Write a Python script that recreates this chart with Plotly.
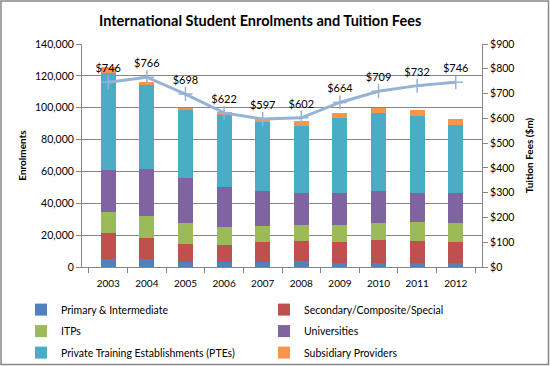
import plotly.graph_objects as go

years = ["2003", "2004", "2005", "2006", "2007", "2008", "2009", "2010", "2011", "2012"]
primary = [5000, 4800, 3100, 3100, 3100, 3600, 2700, 2700, 2700, 2700]
secondary = [16100, 13600, 11300, 10700, 12600, 12500, 13200, 14100, 13400, 12800]
itps = [13600, 13600, 13200, 11500, 10200, 10500, 10700, 10800, 12100, 12300]
universities = [26200, 29300, 28500, 25100, 22000, 19900, 19900, 20100, 18300, 18700]
ptes = [60700, 52800, 42500, 44800, 43300, 42000, 47000, 48800, 48300, 42400]
subsidiary = [4100, 1800, 1200, 2100, 1700, 3000, 3400, 3300, 3900, 4000]
fees = [746, 766, 698, 622, 597, 602, 664, 709, 732, 746]
fee_labels = ["$" + str(v) for v in fees]

series = [
    ("Primary & Intermediate", primary, "#4F81BD", "legend"),
    ("Secondary/Composite/Special", secondary, "#C0504D", "legend2"),
    ("ITPs", itps, "#9BBB59", "legend"),
    ("Universities", universities, "#8064A2", "legend2"),
    ("Private Training Establishments (PTEs)", ptes, "#4BACC6", "legend"),
    ("Subsidiary Providers", subsidiary, "#F79646", "legend2"),
]

FONT = "Lato"
L, R, T, B = 82, 68, 44, 99
PW, PH = 550 - L - R, 366 - T - B

fig = go.Figure()
for name, vals, col, lg in series:
    fig.add_trace(go.Bar(x=years, y=vals, name=name, legend=lg, legendgroup=name,
                         marker=dict(color=col, line=dict(width=0))))

fig.add_trace(go.Scatter(
    x=years, y=fees, yaxis="y2", mode="lines+markers+text", text=fee_labels,
    textposition="top center", textfont=dict(family=FONT, size=11, color="#000"),
    line=dict(color="#95B3D7", width=3),
    marker=dict(symbol="cross-thin", size=10, line=dict(color="#95B3D7", width=1.5), color="#95B3D7"),
    showlegend=False, cliponaxis=False,
))

legend_common = dict(orientation="v", xanchor="left", y=-0.126, yanchor="top",
                     traceorder="grouped", font=dict(size=10.5), tracegroupgap=2.5,
                     bgcolor="rgba(0,0,0,0)", itemwidth=30)

fig.update_layout(
    width=550, height=366,
    margin=dict(l=L, r=R, t=T, b=B, autoexpand=False),
    paper_bgcolor="white", plot_bgcolor="white",
    barmode="stack", bargap=0.61, hovermode=False,
    font=dict(family=FONT, size=10, color="#000"),
    title=dict(text="<b>International Student Enrolments and Tuition Fees</b>",
               x=0.473, xanchor="center", y=0.943, yanchor="middle",
               font=dict(family=FONT, size=14.5, color="#000")),
    xaxis=dict(type="category", showgrid=False, showline=True, linecolor="#868686",
               ticks="outside", tickson="boundaries", ticklen=5, tickcolor="#868686",
               tickfont=dict(size=10), ticklabelstandoff=7),
    yaxis=dict(range=[0, 140000], dtick=20000, tickformat=",d", showgrid=True,
               gridcolor="#868686", gridwidth=1, showline=True, linecolor="#868686",
               ticks="outside", ticklen=5, tickcolor="#868686", zeroline=False,
               title=dict(text="<b>Enrolments</b>", font=dict(size=10), standoff=6),
               tickfont=dict(size=10.5)),
    yaxis2=dict(range=[0, 900], dtick=100, tickprefix="$", overlaying="y", side="right",
                showgrid=False, showline=True, linecolor="#868686", ticks="outside",
                ticklen=5, tickcolor="#868686", zeroline=False,
                title=dict(text="<b>Tuition Fees ($m)</b>", font=dict(size=10), standoff=12),
                tickfont=dict(size=10.5)),
    legend=dict(x=(21 - L) / PW, **legend_common),
    legend2=dict(x=(264 - L) / PW, **legend_common),
    shapes=[dict(type="rect", xref="paper", yref="paper",
                 x0=(1 - L) / PW, x1=(548.5 - L) / PW, y0=(T + PH - 364.5) / PH, y1=(T + PH - 1) / PH,
                 line=dict(color="#868686", width=1.5), fillcolor="rgba(0,0,0,0)", layer="below")],
)

fig.write_html("out.html", config={"displayModeBar": False},
               post_script="document.body.style.margin='0';")
